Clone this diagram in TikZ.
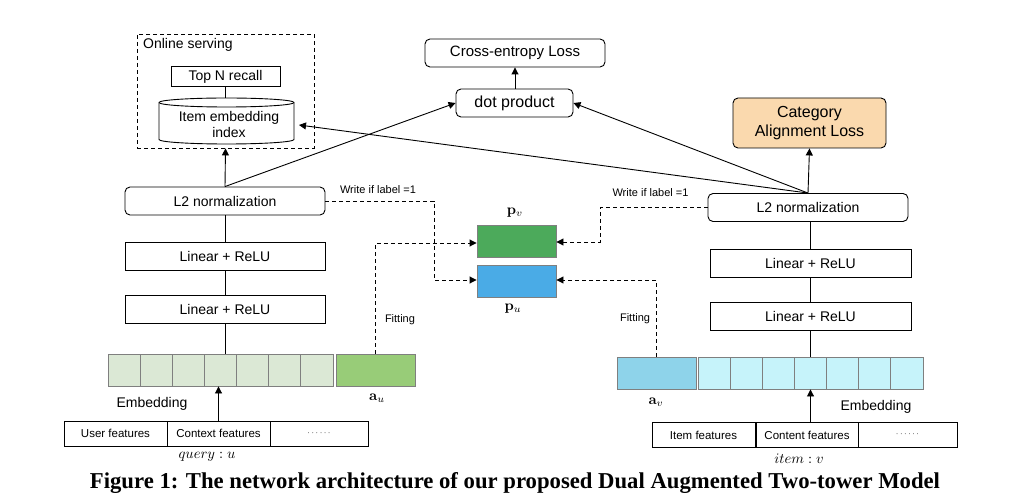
\documentclass[tikz,border=0pt]{standalone}
\usepackage[no-math]{fontspec}
\setsansfont{Liberation Sans}
\newfontfamily\capfont{Liberation Serif}
\usetikzlibrary{arrows.meta}
\definecolor{cellL}{HTML}{DBE8D5}
\definecolor{cellAU}{HTML}{98CC78}
\definecolor{cellR}{HTML}{C6F3FA}
\definecolor{cellAV}{HTML}{8ED3EA}
\definecolor{pvC}{HTML}{4CAA5B}
\definecolor{puC}{HTML}{4AABE6}
\definecolor{catC}{HTML}{FAD9AE}
\definecolor{cellB}{HTML}{7F7F7F}
\newcommand{\mlb}[1]{\scalebox{1.45}{$#1$}}
\begin{document}
\begin{tikzpicture}[x=1pt,y=-1pt,
  fs/.style={font=\sffamily\fontsize{#1}{#1}\selectfont},
  blk/.style={draw, line width=0.9pt, fill=white, inner sep=0pt, fs=14},
  rblk/.style={blk, rounded corners=5pt},
  lbl/.style={inner sep=0pt, fs=11},
  arr/.style={line width=0.9pt, -{Triangle[length=7pt,width=7pt]}},
  ln/.style={line width=0.9pt},
  dsh/.style={line width=0.9pt, dash pattern=on 4pt off 3pt},
  darr/.style={dsh, -{Triangle[length=7pt,width=7pt]}},
  cell/.style={draw=cellB, line width=0.9pt, inner sep=0pt, minimum width=32.14pt, minimum height=32pt},
  feat/.style={draw, line width=0.9pt, inner sep=0pt, minimum width=103pt, minimum height=25pt, fs=11.5},
  mlab/.style={inner sep=0pt}
]
\useasboundingbox (0,0) rectangle (1035,502);

% ---------- online serving ----------
\node[draw, dsh, minimum width=177pt, minimum height=114pt, inner sep=0pt] (onl) at (225.5,91) {};
\node[inner sep=0pt, fs=14, anchor=west] (onlt) at (143,45) {Online serving};
\node[blk, minimum width=109pt, minimum height=20pt] (topn) at (225.5,76.5) {Top N recall};
% cylinder
\path[draw, line width=0.9pt, fill=white] (159,102.5) -- (159,139.5)
  arc[start angle=180, end angle=360, x radius=67.5pt, y radius=4.5pt] -- (294,102.5)
  arc[start angle=0, end angle=180, x radius=67.5pt, y radius=4.5pt] -- cycle;
\draw[line width=0.9pt] (159,102.5) arc[start angle=180, end angle=360, x radius=67.5pt, y radius=4.5pt];
\node[inner sep=0pt, minimum width=135pt, minimum height=46pt, align=center,
      font=\sffamily\fontsize{14}{16}\selectfont] (cyl) at (229,124) {Item embedding\\index};
\coordinate (cylin) at (299,125);
\draw[ln] (topn.south) -- (topn.south |- 0,98);

% ---------- top losses ----------
\node[rblk, minimum width=180pt, minimum height=28pt, fs=15] (ce) at (515,53) {Cross-entropy Loss};
\node[rblk, minimum width=117pt, minimum height=28pt, fs=16] (dp) at (514.5,103) {dot product};
\node[rblk, fill=catC, minimum width=153pt, minimum height=50pt, align=center,
      font=\sffamily\fontsize{16}{19}\selectfont] (cat) at (809.5,123) {Category\\Alignment Loss};
\draw[arr] (dp.north -| ce.south) -- (ce.south);

% ---------- left tower ----------
\node[rblk, minimum width=200pt, minimum height=28pt] (l2l) at (225,201) {L2 normalization};
\node[blk, minimum width=200pt, minimum height=28pt] (la1) at (225,256) {Linear + ReLU};
\node[blk, minimum width=200pt, minimum height=28pt] (la2) at (225,309) {Linear + ReLU};
\draw[ln] (l2l.south) -- (la1.north);
\draw[ln] (la1.south) -- (la2.north);
\foreach \i in {0,...,6} \node[cell, fill=cellL] (eu\i) at ({108+32.14*(\i+0.5)},370) {};
\node[cell, fill=cellAU, minimum width=79pt] (au) at (375.5,370) {};
\draw[ln] (la2.south) -- (la2.south |- eu3.north);
\node[mlab] (aul) at (377,398) {\mlb{\mathbf{a}_u}};
\node[inner sep=0pt, fs=14] (embl) at (152,404) {Embedding};
\node[feat] (uf1) at (115.5,433.5) {User features};
\node[feat] (uf2) at (218.5,433.5) {Context features};
\node[feat, minimum width=98pt] (uf3) at (319,433.5) {\fontsize{9}{9}\selectfont\raisebox{1pt}{$\cdots\cdots$}};
\draw[arr] (uf2.north) -- (uf2.north |- eu3.south);
\node[mlab] (ql) at (207,457) {\mlb{query:u}};

% ---------- right tower ----------
\node[rblk, minimum width=200pt, minimum height=28pt] (l2r) at (808,207.5) {L2 normalization};
\node[blk, minimum width=201pt, minimum height=28pt] (lb1) at (810.5,263) {Linear + ReLU};
\node[blk, minimum width=201pt, minimum height=28pt] (lb2) at (810.5,316) {Linear + ReLU};
\draw[ln] (l2r.south -| lb1.north) -- (lb1.north);
\draw[ln] (lb1.south) -- (lb2.north);
\node[cell, fill=cellAV, minimum width=79pt] (av) at (656.5,373) {};
\foreach \i in {0,...,6} \node[cell, fill=cellR] (ev\i) at ({698+32.14*(\i+0.5)},373) {};
\draw[ln] (lb2.south) -- (lb2.south |- ev3.north);
\node[mlab] (avl) at (656,402) {\mlb{\mathbf{a}_v}};
\node[inner sep=0pt, fs=14] (embr) at (876,407) {Embedding};
\node[feat] (if1) at (703.5,435) {Item features};
\node[feat, minimum width=102pt, fs=11.5] (if2) at (807,435) {Content features};
\node[feat, minimum width=99pt] (if3) at (907.5,435) {\fontsize{9}{9}\selectfont\raisebox{1pt}{$\cdots\cdots$}};
\draw[arr] (lb2.south |- if2.north) -- (lb2.south |- ev3.south);
\node[mlab] (il) at (799,459) {\mlb{item:v}};

% ---------- p boxes ----------
\node[draw=cellB, line width=0.9pt, fill=pvC, minimum width=79pt, minimum height=32pt, inner sep=0pt] (pv) at (516.5,241.5) {};
\node[draw=cellB, line width=0.9pt, fill=puC, minimum width=79pt, minimum height=32pt, inner sep=0pt] (pu) at (516.5,281) {};
\node[mlab] (pvl) at (515,213) {\mlb{\mathbf{p}_v}};
\node[mlab] (pul) at (513,309) {\mlb{\mathbf{p}_u}};

% ---------- solid connectors ----------
\draw[arr] (l2l.north) -- (onl.south);
\draw[arr] (l2l.north) -- (dp.west);
\draw[arr] (l2r.north) -- (dp.east);
\draw[arr] (l2r.north) -- (cylin);
\draw[arr] (l2r.north) -- (cat.south);

% ---------- dashed connectors ----------
\draw[darr] (l2l.east) -- (434,201) -- (434,280) -- (pu.west |- 0,280);
\draw[darr] (au.north) -- (au.north |- 0,243) -- (pv.west |- 0,243);
\draw[darr] (l2r.west) -- (600,207.5) -- (600,242) -- (pv.east |- 0,242);
\draw[darr] (av.north) -- (av.north |- 0,280) -- (pu.east |- 0,280);
\node[lbl] (wl) at (378,190) {Write if label =1};
\node[lbl] (wr) at (650.5,193) {Write if label =1};
\node[lbl] (fl) at (400,320) {Fitting};
\node[lbl] (fr) at (635,319) {Fitting};

% ---------- caption ----------
\node[inner sep=0pt] (cap) at (515,483) {\resizebox{850pt}{!}{\capfont\bfseries Figure 1: The network architecture of our proposed Dual Augmented Two-tower Model}};
\end{tikzpicture}
\end{document}
